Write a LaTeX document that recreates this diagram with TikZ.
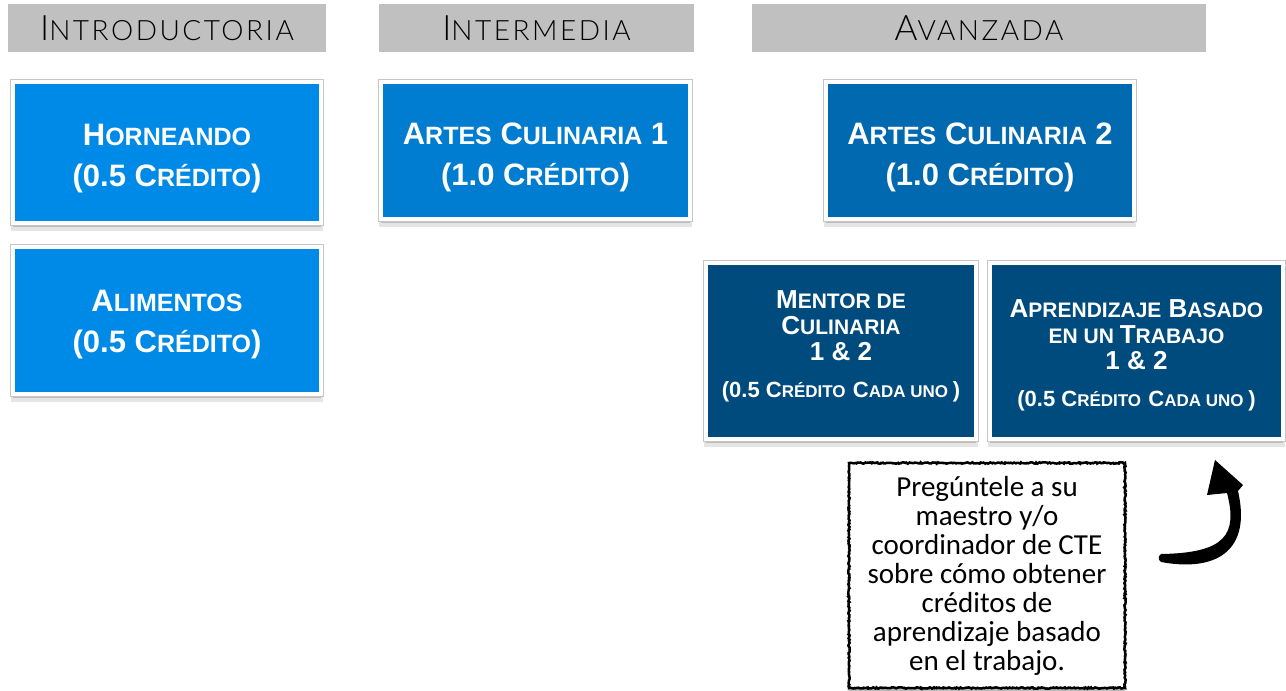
\documentclass[tikz,border=0pt]{standalone}
\usepackage{fontspec}
\setmainfont{Liberation Sans}
\newfontfamily\headfont{Lato Light}[LetterSpace=9]
\newfontfamily\notefont{Carlito}
\usetikzlibrary{
	positioning,
	shadows,
	decorations.pathmorphing
}
\definecolor{headgray}{RGB}{192,192,192}
\definecolor{introblue}{RGB}{0,138,232}
\definecolor{interblue}{RGB}{0,125,208}
\definecolor{avanzblue}{RGB}{0,105,176}
\definecolor{deepblue}{RGB}{0,75,126}

% fake small caps: big first letters, smaller rest
\newcommand{\hsc}[2]{\raisebox{-3pt}{{\fontsize{35}{35}\selectfont#1}{\fontsize{28}{35}\selectfont#2}}}
\newcommand{\lsc}[2]{{\fontsize{31}{41}\selectfont#1}{\fontsize{25}{41}\selectfont#2}}
\newcommand{\dsc}[2]{{\fontsize{26}{26}\selectfont#1}{\fontsize{21}{26}\selectfont#2}}
\newcommand{\esc}[2]{{\fontsize{22}{26}\selectfont#1}{\fontsize{17}{26}\selectfont#2}}
% struts to move a text block down / up inside its box
\newcommand{\topstrut}[1]{\rule{0pt}{#1}}
\newcommand{\botstrut}[1]{\rule[-#1]{0pt}{0pt}}

\begin{document}
\begin{tikzpicture}[x=1pt,y=-1pt,
  softshadow/.style={drop shadow={shadow xshift=0pt,shadow yshift=-4pt,opacity=.18,fill=black},
                     drop shadow={shadow xshift=0pt,shadow yshift=-6.5pt,shadow scale=1.01,opacity=.1,fill=black}},
  header/.style={fill=headgray,minimum height=48pt,inner sep=0pt,text=black,font=\headfont},
  course/.style={softshadow,preaction={draw=gray!45,line width=5.5pt},draw=white,line width=4pt,
                 text=white,align=center,inner sep=0pt},
  lightcourse/.style={course,font=\bfseries\fontsize{31}{41}\selectfont},
  darkcourse/.style={course,fill=deepblue,minimum width=#1,minimum height=176.5pt,
                     font=\bfseries\fontsize{26}{26}\selectfont},
  notebox/.style={softshadow,draw=black,line width=2.5pt,fill=white,decorate,
                  decoration={random steps,segment length=1.3pt,amplitude=.7pt},
                  minimum width=276pt,minimum height=225pt,align=center,inner sep=0pt,
                  font=\notefont\fontsize{29}{29}\selectfont}
]
\useasboundingbox (0,0) rectangle (1286,691);

\node (hintro)[header,minimum width=318pt] at (167,28)   {\hsc{I}{NTRODUCTORIA}};
\node (hinter)[header,minimum width=315pt] at (536.5,28) {\hsc{I}{NTERMEDIA}};
\node (havanz)[header,minimum width=454pt] at (979,28)   {\hsc{A}{VANZADA}};

\node (horneando)[lightcourse,fill=introblue,minimum width=308.5pt,minimum height=141.5pt] at (167,152.5)
  {\topstrut{34pt}\lsc{H}{ORNEANDO}\\\lsc{(0.5 C}{RÉDITO}\lsc{)}{}};
\node (alimentos)[lightcourse,fill=introblue,minimum width=308.5pt,minimum height=147.5pt,
  below=19.5pt of horneando]
  {\topstrut{30pt}\lsc{A}{LIMENTOS}\\\lsc{(0.5 C}{RÉDITO}\lsc{)}{}};
\node (artes1)[lightcourse,fill=interblue,minimum width=309.5pt,minimum height=137.5pt] at (535.5,150.5)
  {\topstrut{36pt}\lsc{A}{RTES} \lsc{C}{ULINARIA} \lsc{1}{}\\\lsc{(1.0 C}{RÉDITO}\lsc{)}{}};
\node (artes2)[lightcourse,fill=avanzblue,minimum width=308.5pt,minimum height=137.5pt] at (980,150.5)
  {\topstrut{36pt}\lsc{A}{RTES} \lsc{C}{ULINARIA} \lsc{2}{}\\\lsc{(1.0 C}{RÉDITO}\lsc{)}{}};

\node (mentor)[darkcourse=270.5pt] at (841,351)
  {\dsc{M}{ENTOR DE}\\\dsc{C}{ULINARIA}\\\dsc{1 \& 2}{}\\[11pt]
   \esc{(0.5 C}{RÉDITO} \esc{C}{ADA UNO }\esc{)}{}\botstrut{14.5pt}};
\node (aprendizaje)[darkcourse=293.5pt] at (1136.5,351)
  {\topstrut{26.5pt}\dsc{A}{PRENDIZAJE} \dsc{B}{ASADO}\\\dsc{}{EN UN }\dsc{T}{RABAJO}\\\dsc{1 \& 2}{}\\[11pt]
   \esc{(0.5 C}{RÉDITO} \esc{C}{ADA UNO }\esc{)}{}};

\node (nota)[notebox] at (987,575.5)
  {Pregúntele a su\\maestro y/o\\coordinador de CTE\\sobre cómo obtener\\créditos de\\aprendizaje basado\\en el trabajo.};

\coordinate (arrowtail) at (1161,562);
\coordinate (arrowtip)  at (1215,460);
\fill (arrowtail) .. controls (1215,572) and (1252,552) .. (1238,491) -- (1243,485)
  -- (arrowtip) -- (1207,495) -- (1227,493) .. controls (1238,535) and (1225,553) .. (1161,554)
  .. controls (1158,556) and (1158,560) .. (arrowtail) -- cycle;
\end{tikzpicture}
\end{document}
